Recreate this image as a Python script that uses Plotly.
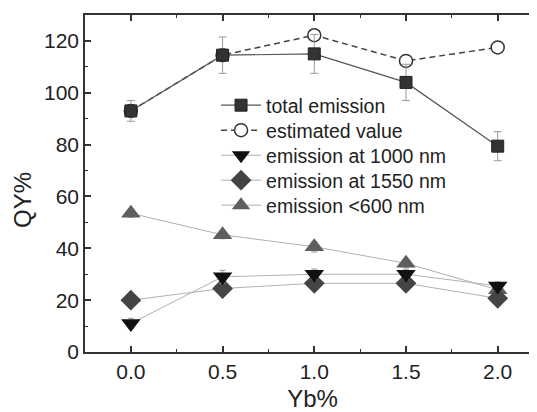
import plotly.graph_objects as go

yb = [0.0, 0.5, 1.0, 1.5, 2.0]
total_emission = [93, 114.5, 115, 104, 79.4]
total_err = [4, 7, 7.5, 7, 5.6]
estimated_value = [93, 114.5, 122.2, 112.3, 117.5]
em_1000 = [11, 29, 30, 30, 25.5]
em_1000_err = [2, 2.5, 2, 2, 1.5]
em_1550 = [20, 24.5, 26.5, 26.5, 20.7]
em_1550_err = [1, 1, 1, 1, 1]
em_600 = [53.5, 45.2, 40.6, 34.2, 24]
em_600_err = [1.5, 1.5, 2, 1.5, 1.5]

x_ticks = [0.0, 0.5, 1.0, 1.5, 2.0]
x_tick_labels = ["0.0", "0.5", "1.0", "1.5", "2.0"]
y_ticks = [0, 20, 40, 60, 80, 100, 120]

font = "Liberation Sans, Arial, sans-serif"
fig = go.Figure()

fig.add_trace(go.Scatter(
    x=yb, y=estimated_value, name="estimated value", mode="lines+markers", legend="legend2",
    line=dict(color="#444444", width=1.5, dash="6px,4px"),
    marker=dict(symbol="circle", size=13, color="white", line=dict(color="#333333", width=1.5)),
))
fig.add_trace(go.Scatter(
    x=yb, y=em_600, name="emission <600 nm", mode="lines+markers", legend="legend5",
    line=dict(color="#b0b0b0", width=1),
    marker=dict(symbol="triangle-up", size=17, color="#5e5e5e"),
    error_y=dict(type="data", array=em_600_err, color="#999999", thickness=1, width=3),
))
fig.add_trace(go.Scatter(
    x=yb, y=em_1550, name="emission at 1550 nm", mode="lines+markers", legend="legend4",
    line=dict(color="#b0b0b0", width=1),
    marker=dict(symbol="diamond", size=16, color="#444444"),
    error_y=dict(type="data", array=em_1550_err, color="#999999", thickness=1, width=3),
))
fig.add_trace(go.Scatter(
    x=yb, y=em_1000, name="emission at 1000 nm", mode="lines+markers", legend="legend3",
    line=dict(color="#b0b0b0", width=1),
    marker=dict(symbol="triangle-down", size=17, color="#111111"),
    error_y=dict(type="data", array=em_1000_err, color="#999999", thickness=1, width=3),
))
fig.add_trace(go.Scatter(
    x=yb, y=total_emission, name="total emission", mode="lines+markers", legend="legend",
    line=dict(color="#555555", width=1.2),
    marker=dict(symbol="square", size=12, color="#333333", line=dict(color="#222222", width=1)),
    error_y=dict(type="data", array=total_err, color="#999999", thickness=1, width=4),
))

leg_font = dict(size=19.5, family=font, color="#222222")
def leg(y):
    return dict(x=0.288, y=y, xanchor="left", yanchor="top", bgcolor="rgba(0,0,0,0)",
                font=leg_font, itemwidth=40)

fig.update_layout(
    width=537, height=412,
    margin=dict(l=77, r=5, t=7, b=68),
    paper_bgcolor="white", plot_bgcolor="white",
    font=dict(family=font, color="#222222", size=17),
    showlegend=True,
    legend=leg(0.7893), legend2=leg(0.7151), legend3=leg(0.6409),
    legend4=leg(0.5668), legend5=leg(0.4926),
    xaxis=dict(
        range=[-0.25, 2.2306], tickmode="array", tickvals=x_ticks, ticktext=x_tick_labels,
        ticks="inside", ticklen=6, tickwidth=1.5, tickcolor="#333333",
        showline=True, linecolor="#333333", linewidth=1.5, mirror="ticks",
        showgrid=False, zeroline=False, automargin=False,
        tickfont=dict(size=21, family=font, color="#222222"),
        minor=dict(dtick=0.25, tick0=0, ticks="inside", ticklen=3, tickwidth=1.2, tickcolor="#333333", showgrid=False),
        title=dict(text="Yb%", font=dict(size=24, family=font, color="#222222"), standoff=8),
    ),
    yaxis=dict(
        range=[0, 130], tickmode="array", tickvals=y_ticks,
        ticks="inside", ticklen=6, tickwidth=1.5, tickcolor="#333333",
        showline=True, linecolor="#333333", linewidth=1.5, mirror="ticks",
        showgrid=False, zeroline=False, automargin=False,
        tickfont=dict(size=21, family=font, color="#222222"),
        minor=dict(dtick=10, tick0=0, ticks="inside", ticklen=3, tickwidth=1.2, tickcolor="#333333", showgrid=False),
    ),
    annotations=[dict(
        text="QY%", textangle=-90, xref="paper", yref="paper", x=-0.1385, y=0.451,
        xanchor="center", yanchor="middle", showarrow=False,
        font=dict(size=24, family=font, color="#222222"),
    )],
)

fig.write_html("out.html")
